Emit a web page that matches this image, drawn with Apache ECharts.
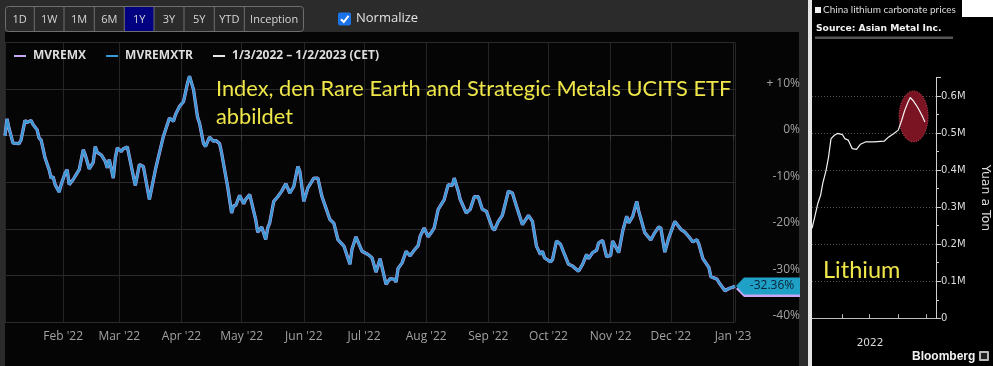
<!DOCTYPE html>
<html><head><meta charset="utf-8">
<script src="https://cdn.jsdelivr.net/npm/echarts@6/dist/echarts.min.js"></script>
<style>
html,body{margin:0;padding:0;background:#2b2b2b;}
#wrap{position:relative;width:993px;height:366px;overflow:hidden;background:#2b2b2b;}
.bg{position:absolute;}
#chart{position:absolute;left:0;top:0;width:993px;height:366px;}
</style></head><body>
<div id="wrap">
<div class="bg" style="left:5px;top:32px;width:794px;height:334px;background:#050505"></div>
<div class="bg" style="left:808px;top:0;width:4px;height:366px;background:#e6e6e6"></div>
<div class="bg" style="left:812px;top:0;width:181px;height:366px;background:#000"></div>
<div class="bg" style="left:962px;top:0;width:31px;height:17px;background:#fff"></div>
<div id="chart"></div>
</div>
<script>
// ---------- Main chart data (% change, normalized) ----------
const dates = [
'2022-01-03','2022-01-04','2022-01-05','2022-01-07','2022-01-10','2022-01-11','2022-01-13','2022-01-14','2022-01-16','2022-01-17',
'2022-01-19','2022-01-20','2022-01-21','2022-01-23','2022-01-25','2022-01-26','2022-01-27','2022-01-28','2022-01-30','2022-01-31',
'2022-02-02','2022-02-03','2022-02-04','2022-02-06','2022-02-08','2022-02-09','2022-02-11','2022-02-12','2022-02-14','2022-02-16',
'2022-02-17','2022-02-18','2022-02-20','2022-02-22','2022-02-23','2022-02-24','2022-02-26','2022-02-27','2022-02-28','2022-03-02',
'2022-03-03','2022-03-05','2022-03-07','2022-03-09','2022-03-11','2022-03-13','2022-03-16','2022-03-19','2022-03-23','2022-03-26',
'2022-03-28','2022-03-29','2022-03-31','2022-04-02','2022-04-04','2022-04-05','2022-04-07','2022-04-09','2022-04-10','2022-04-12',
'2022-04-13','2022-04-15','2022-04-17','2022-04-18','2022-04-20','2022-04-21','2022-04-24','2022-04-26','2022-04-27','2022-04-28',
'2022-04-30','2022-05-02','2022-05-03','2022-05-05','2022-05-08','2022-05-09','2022-05-11','2022-05-13','2022-05-14','2022-05-15',
'2022-05-17','2022-05-19','2022-05-21','2022-05-23','2022-05-25','2022-05-27','2022-05-29','2022-05-30','2022-06-01','2022-06-03',
'2022-06-06','2022-06-08','2022-06-10','2022-06-12','2022-06-14','2022-06-16','2022-06-18','2022-06-21','2022-06-24','2022-06-25',
'2022-06-27','2022-06-30','2022-07-03','2022-07-05','2022-07-07','2022-07-09','2022-07-12','2022-07-14','2022-07-16','2022-07-17',
'2022-07-18','2022-07-20','2022-07-22','2022-07-24','2022-07-26','2022-07-28','2022-07-29','2022-07-31','2022-08-02','2022-08-04',
'2022-08-05','2022-08-07','2022-08-10','2022-08-12','2022-08-14','2022-08-15','2022-08-17','2022-08-18','2022-08-21','2022-08-23',
'2022-08-25','2022-08-27','2022-08-29','2022-08-31','2022-09-03','2022-09-04','2022-09-06','2022-09-08','2022-09-11','2022-09-13',
'2022-09-15','2022-09-18','2022-09-21','2022-09-23','2022-09-25','2022-09-27','2022-09-28','2022-09-29','2022-10-02','2022-10-03',
'2022-10-05','2022-10-07','2022-10-09','2022-10-11','2022-10-13','2022-10-16','2022-10-18','2022-10-20','2022-10-21','2022-10-23',
'2022-10-25','2022-10-26','2022-10-28','2022-10-30','2022-11-01','2022-11-02','2022-11-05','2022-11-07','2022-11-09','2022-11-10',
'2022-11-12','2022-11-14','2022-11-15','2022-11-18','2022-11-21','2022-11-23','2022-11-25','2022-11-26','2022-11-28','2022-11-30',
'2022-12-03','2022-12-06','2022-12-08','2022-12-10','2022-12-12','2022-12-14','2022-12-15','2022-12-17','2022-12-20','2022-12-21',
'2022-12-24','2022-12-25','2022-12-28','2022-12-30','2023-01-02'
];
const mvremxtr = [
0,3.6,1.6,-1.6,-1.7,-0.9,3.3,2.8,3.3,2.4,
1.3,-0.5,-0.9,-4.8,-7.3,-9.1,-8.8,-10.5,-12.1,-10.5,
-8.0,-7.3,-10.5,-9.4,-8.0,-7.3,-3.0,-4.1,-7.1,-5.7,
-2.3,-3.6,-4.1,-5.5,-6.9,-5.1,-9.1,-4.8,-2.6,-3.4,
-2.8,-2.4,-6.6,-10.7,-6.2,-6.6,-13.7,-7.3,-0.1,3.8,
3.1,4.5,6.3,7.3,11.3,12.8,9.9,4.0,2.7,-1.7,
-2.3,-0.3,-1.2,-1.0,-1.7,-3.7,-10.9,-16.6,-15.0,-15.0,
-12.8,-14.6,-13.7,-12.6,-18.0,-20.7,-19.6,-22.3,-19.8,-18.7,
-14.1,-13.1,-11.9,-10.3,-12.3,-10.9,-6.6,-7.6,-14.1,-11.2,
-9.1,-9.1,-13.0,-15.5,-18.0,-18.8,-22.3,-23.7,-27.6,-24.4,
-21.7,-24.8,-25.5,-26.2,-29.3,-26.4,-31.9,-30.7,-30.8,-31.4,
-28.5,-27.3,-24.8,-25.8,-24.6,-23.6,-21.6,-19.8,-21.7,-20.5,
-19.8,-15.8,-13.7,-10.5,-10.7,-9.1,-11.9,-13.7,-16.6,-15.8,
-13.1,-13.1,-15.8,-16.2,-19.8,-20.3,-18.4,-17.1,-11.9,-12.3,
-15.1,-19.1,-17.1,-18.4,-23.7,-25.5,-24.8,-26.2,-27.1,-26.6,
-22.6,-23.3,-25.5,-27.6,-28.0,-29.1,-27.6,-25.5,-26.4,-25.1,
-24.6,-23.0,-22.5,-26.0,-25.7,-22.6,-25.1,-20.5,-17.3,-18.7,
-17.3,-14.1,-16.2,-20.8,-22.4,-20.8,-19.6,-19.8,-25.0,-21.9,
-18.4,-20.1,-20.7,-21.7,-22.8,-22.3,-23.3,-26.4,-28.3,-30.3,
-30.8,-31.5,-33.3,-32.8,-32.36
];
// MVREMX (price index) is visually indistinguishable from the TR line at this scale
const mvremx = mvremxtr.slice();
const monthNames = ['Jan','Feb','Mar','Apr','May','Jun','Jul','Aug','Sep','Oct','Nov','Dec'];
const seriesNames = ['MVREMX','MVREMXTR','1/3/2022 – 1/2/2023 (CET)'];
const rangeButtons = ['1D','1W','1M','6M','1Y','3Y','5Y','YTD','Inception'];

// ---------- Inset: China lithium carbonate prices (yuan/ton) ----------
const liDates = ['2021-12-25','2022-01-03','2022-01-13','2022-01-22','2022-01-29','2022-02-09','2022-02-17','2022-02-25',
'2022-03-08','2022-03-18','2022-04-03','2022-04-11','2022-04-22','2022-05-05','2022-05-19','2022-06-01','2022-06-17',
'2022-07-14','2022-08-17','2022-08-31','2022-09-18','2022-10-02','2022-10-13','2022-10-23','2022-11-03','2022-11-10',
'2022-11-19','2022-11-30','2022-12-10','2022-12-21','2022-12-28'];
const liValues = [243000,274000,310000,332000,364000,400000,436000,485000,
494000,499000,496000,485000,481000,458000,456000,470000,476000,
476000,478000,489000,499000,508000,534000,561000,584000,596000,
588000,575000,561000,543000,530000];
const liTicks = [0,100000,200000,300000,400000,500000,600000];
const liQuarterTicks = ['2022-04-01','2022-07-01','2022-10-01','2023-01-01'];
const liYearLabel = ['2022-07-02', '2022'];
const liHighlight = ['2022-11-21', 545000]; // centre of the highlighted peak region

const ts = s => +new Date(s + 'T00:00:00');

const chart = echarts.init(document.getElementById('chart'), null, {renderer:'canvas'});
const mainFont = 'Open Sans';

chart.setOption({
  backgroundColor: 'transparent',
  animation: false,
  legend: {
    left: 14, top: 50, padding: 0, icon: 'rect', itemWidth: 12, itemHeight: 2, itemGap: 20,
    selectedMode: false,
    textStyle: {color: '#dedede', fontWeight: 'bold', fontSize: 12, fontFamily: mainFont, padding: [0,0,0,2]},
    data: seriesNames
  },
  grid: [
    {left: 5, width: 730, top: 42.6, bottom: 44, containLabel: false},
    {left: 812, right: 55, top: 77.5, bottom: 47.7, containLabel: false}
  ],
  xAxis: [
    {
      type: 'time', gridIndex: 0, min: ts('2022-01-03'), max: ts('2023-01-02'),
      splitNumber: 12,
      axisLine: {lineStyle: {color: '#3a3a3a'}},
      axisTick: {show: true, length: 4, lineStyle: {color: '#3a3a3a'}},
      splitLine: {show: true, lineStyle: {color: '#252525', width: 1}},
      axisLabel: {
        color: '#a2a2a2', fontSize: 12, fontFamily: mainFont, margin: 9,
        formatter: v => { const d = new Date(v); return monthNames[d.getMonth()] + " '" + String(d.getFullYear()).slice(2); }
      }
    },
    {
      type: 'value', gridIndex: 1, min: ts('2021-12-25'), max: ts('2023-02-02'), offset: 7,
      axisLine: {lineStyle: {color: '#bdbdbd'}},
      axisTick: {show: true, inside: true, length: 4, lineStyle: {color: '#bdbdbd'},
        customValues: liQuarterTicks.map(ts)},
      axisLabel: {color: '#dcdcdc', fontSize: 10.5, fontFamily: 'DejaVu Sans', margin: 12,
        customValues: [ts(liYearLabel[0])], formatter: () => liYearLabel[1]},
      splitLine: {show: false}
    }
  ],
  yAxis: [
    {
      type: 'value', gridIndex: 0, position: 'right', min: -40, max: 20, interval: 10,
      axisLine: {show: false}, axisTick: {show: false},
      splitLine: {show: true, lineStyle: {color: '#2a2a2a', width: 1}},
      axisLabel: {
        color: '#a2a2a2', fontSize: 12, fontFamily: mainFont, align: 'right', margin: 65, verticalAlign: 'bottom',
        formatter: v => v === 20 ? '' : (v > 0 ? '+ ' + v + '%' : v + '%')
      }
    },
    {
      type: 'value', gridIndex: 1, position: 'right', min: 0, max: 650000, interval: 100000,
      axisLine: {show: true, lineStyle: {color: '#cfcfcf'}},
      axisTick: {show: true, length: 5, lineStyle: {color: '#cfcfcf'}},
      minorTick: {show: true, splitNumber: 2, length: 3, lineStyle: {color: '#cfcfcf'}},
      splitLine: {show: true, showMaxLine: false, lineStyle: {color: '#4e4e4e', type: [1, 2]}},
      axisLabel: {color: '#dcdcdc', fontSize: 10, fontFamily: 'DejaVu Sans', margin: 5,
        formatter: v => liTicks.indexOf(v) < 0 ? '' : (v === 0 ? '0' : (v / 1e6).toFixed(1) + 'M')},
      name: 'Yuan a Ton', nameLocation: 'middle', nameRotate: -90, nameGap: 43,
      nameTextStyle: {color: '#dcdcdc', fontSize: 12.5, fontFamily: 'DejaVu Sans'}
    }
  ],
  series: [
    {name: seriesNames[0], type: 'line', xAxisIndex: 0, yAxisIndex: 0, showSymbol: false, z: 2,
      data: dates.map((d, i) => [d, mvremx[i]]),
      itemStyle: {color: '#c7a7f5'}, lineStyle: {color: '#c7a7f5', width: 3.3}},
    {name: seriesNames[1], type: 'line', xAxisIndex: 0, yAxisIndex: 0, showSymbol: false, z: 3,
      data: dates.map((d, i) => [d, mvremxtr[i]]),
      itemStyle: {color: '#3a98d2'}, lineStyle: {color: '#3a98d2', width: 2.4}},
    {name: seriesNames[2], type: 'line', xAxisIndex: 0, yAxisIndex: 0, data: [],
      itemStyle: {color: '#e6e6e6'}, lineStyle: {color: '#e6e6e6'}},
    {name: 'China lithium carbonate prices', type: 'line', xAxisIndex: 1, yAxisIndex: 1, showSymbol: false, z: 3,
      data: liDates.map((d, i) => [ts(d), liValues[i]]),
      lineStyle: {color: '#f2f2f2', width: 1.2}, itemStyle: {color: '#f2f2f2'}}
  ]
});

// ---------- Decorations positioned through the library's scales ----------
const last = mvremxtr.length - 1;
const [px, py] = chart.convertToPixel({gridIndex: 0}, [dates[last], mvremxtr[last]]);
const [ex, ey] = chart.convertToPixel({gridIndex: 1}, [ts(liHighlight[0]), liHighlight[1]]);

const g = [];
// Toolbar
const btnEdges = [5, 34.3, 64, 94.3, 124.3, 154, 184, 214.3, 244.3, 304];
g.push({type: 'rect', shape: {x: 5.5, y: 6.5, width: 298, height: 25, r: 3}, style: {fill: '#2b2b2b', stroke: '#6e6e6e', lineWidth: 1}});
g.push({type: 'rect', shape: {x: btnEdges[4], y: 7, width: btnEdges[5] - btnEdges[4], height: 24}, style: {fill: '#000080'}});
for (let i = 1; i < btnEdges.length - 1; i++) {
  g.push({type: 'line', shape: {x1: btnEdges[i], y1: 6.5, x2: btnEdges[i], y2: 31.5}, style: {stroke: '#6e6e6e', lineWidth: 1}});
}
rangeButtons.forEach((b, i) => {
  g.push({type: 'text', x: (btnEdges[i] + btnEdges[i + 1]) / 2, y: 19.5,
    style: {text: b, fill: '#d6d6d6', font: '11px "Open Sans"', align: 'center', verticalAlign: 'middle'}});
});
// Normalize checkbox
g.push({type: 'rect', shape: {x: 338, y: 12.5, width: 13, height: 13, r: 2}, style: {fill: '#1a73e8'}});
g.push({type: 'polyline', shape: {points: [[341, 19.2], [343.8, 22], [348.5, 15.8]]}, style: {stroke: '#fff', lineWidth: 2, fill: null}});
g.push({type: 'text', x: 356, y: 18.5, style: {text: 'Normalize', fill: '#e2e2e2', font: '13px "Open Sans"', verticalAlign: 'middle'}});
// Annotation
g.push({type: 'text', x: 216, y: 88.5, z: 5, style: {text: 'Index, den Rare Earth and Strategic Metals UCITS ETF', fill: '#efe64a', font: '21.8px Lato', verticalAlign: 'middle'}});
g.push({type: 'text', x: 216, y: 116.5, z: 5, style: {text: 'abbildet', fill: '#efe64a', font: '21.8px Lato', verticalAlign: 'middle'}});
// Last value tag
g.push({type: 'polygon', z: 6, shape: {points: [[px + 1, py + 2.5], [px + 9, py - 5.5], [800, py - 5.5], [800, py + 10.5], [px + 9, py + 10.5]]}, style: {fill: '#c7a7f5'}});
g.push({type: 'polygon', z: 7, shape: {points: [[px + 1, py - 0.5], [px + 9, py - 9], [800, py - 9], [800, py + 8], [px + 9, py + 8]]}, style: {fill: '#1fa0c6'}});
g.push({type: 'text', z: 8, x: 772, y: py - 0.5, style: {text: mvremxtr[last].toFixed(2) + '%', fill: '#0b2236', font: '12px "Open Sans"', align: 'center', verticalAlign: 'middle'}});
// Inset header
g.push({type: 'rect', shape: {x: 815, y: 7, width: 6, height: 6}, style: {fill: '#f0f0f0'}});
g.push({type: 'text', x: 823, y: 10, style: {text: 'China lithium carbonate prices', fill: '#dcdcdc', font: '10px Lato', verticalAlign: 'middle'}});
g.push({type: 'text', x: 816, y: 28.5, style: {text: 'Source: Asian Metal Inc.', fill: '#f2f2f2', font: 'bold 9.2px "DejaVu Sans"', verticalAlign: 'middle'}});
g.push({type: 'rect', shape: {x: 815, y: 36.5, width: 138, height: 2.5}, style: {fill: '#555'}});
// Highlight ellipse
g.push({type: 'ellipse', z: 1, shape: {cx: ex, cy: ey, rx: 14.5, ry: 25.5}, style: {fill: '#7a1322', stroke: '#c44a5c', lineWidth: 1, lineDash: [1, 1.5]}});
g.push({type: 'text', x: 823, y: 270, style: {text: 'Lithium', fill: '#efe64a', font: '23.5px Lato', verticalAlign: 'middle'}});
// Bloomberg
g.push({type: 'text', x: 912, y: 357, style: {text: 'Bloomberg', fill: '#f2f2f2', font: 'bold 12px "Liberation Sans"', verticalAlign: 'middle'}});
g.push({type: 'rect', shape: {x: 979, y: 351, width: 10, height: 10, r: 1}, style: {fill: '#bbb'}});
g.push({type: 'rect', shape: {x: 981, y: 353, width: 6, height: 6}, style: {fill: '#222'}});
chart.setOption({graphic: g});
</script>
</body></html>
